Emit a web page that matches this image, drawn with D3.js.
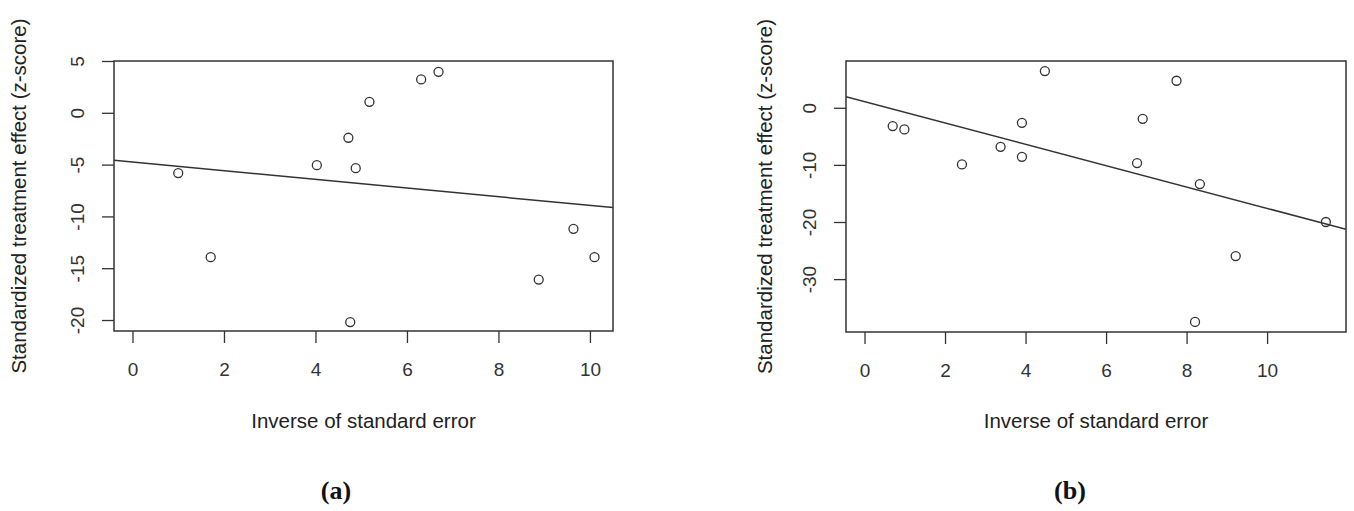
<!DOCTYPE html>
<html>
<head>
<meta charset="utf-8">
<style>
body { margin: 0; background: #fff; }
text { font-family: "Liberation Sans", Arial, sans-serif; fill: #222; }
.box { fill: none; stroke: #333; stroke-width: 1.5; }
.pt { fill: none; stroke: #333; stroke-width: 1.3; }
.fit { stroke: #333; stroke-width: 1.5; }
.tick line { stroke: #333; stroke-width: 1.3; }
.tick text { font-size: 19px; fill: #333; }
.title { font-size: 20.5px; }
.tag { font-family: "Liberation Serif", "DejaVu Serif", serif; font-weight: bold; font-size: 26px; fill: #111; }
</style>
</head>
<body>
<svg width="1354" height="511"></svg>
<script src="https://d3js.org/d3.v7.min.js"></script>
<script>

// panel (a): inverse SE vs standardized effect
var xA = [1.0, 1.71, 4.03, 4.72, 4.88, 4.76, 5.18, 6.31, 6.69, 8.88, 9.64, 10.1];
var yA = [-5.82, -13.93, -5.05, -2.41, -5.34, -20.2, 1.06, 3.22, 3.96, -16.1, -11.2, -13.93];
var fitA = [-4.74, -0.42];   // intercept, slope

// panel (b)
var xB = [0.70, 0.99, 2.42, 3.38, 3.91, 3.91, 4.48, 6.77, 6.91, 7.75, 8.33, 8.21, 9.22, 11.46];
var yB = [-3.2, -3.79, -9.92, -6.83, -2.63, -8.58, 6.43, -9.68, -1.93, 4.73, -13.36, -37.5, -25.97, -20.0];
var fitB = [1.09, -1.87];

var xTicksA = [0, 2, 4, 6, 8, 10];
var yTicksA = [-20, -15, -10, -5, 0, 5];
var xTicksB = [0, 2, 4, 6, 8, 10];
var yTicksB = [-30, -20, -10, 0];

var xTitle = "Inverse of standard error";
var yTitle = "Standardized treatment effect (z-score)";

var svg = d3.select("svg");

// R prints a plain hyphen for negatives
var fmt = function(d) { return String(d); };

var panels = [
  { id: "a", xs: xA, ys: yA, fit: fitA, xt: xTicksA, yt: yTicksA,
    left: 114, top: 61, w: 499, h: 270, xdom: [-0.404, 10.504], ydom: [-21.06, 5.0],
    ylabX: 26, tagX: 336 },
  { id: "b", xs: xB, ys: yB, fit: fitB, xt: xTicksB, yt: yTicksB,
    left: 846, top: 61, w: 500, h: 271, xdom: [-0.46, 11.96], ydom: [-39.26, 8.19],
    ylabX: 772, tagX: 1070 }
];

panels.forEach(function(p) {
  var x = d3.scaleLinear().domain(p.xdom).range([0, p.w]);
  var y = d3.scaleLinear().domain(p.ydom).range([p.h, 0]);

  var g = svg.append("g").attr("transform", "translate(" + p.left + "," + p.top + ")");

  g.append("clipPath").attr("id", "clip-" + p.id)
    .append("rect").attr("width", p.w).attr("height", p.h);

  // y axis, R style: labels parallel to the axis
  var ya = g.append("g")
    .call(d3.axisLeft(y).tickValues(p.yt).tickSize(12).tickSizeOuter(0).tickFormat(fmt));
  ya.select(".domain").remove();
  ya.selectAll(".tick text")
    .attr("x", 0).attr("y", -30).attr("dy", 0)
    .attr("text-anchor", "middle")
    .attr("transform", "rotate(-90)");

  var xa = g.append("g").attr("transform", "translate(0," + p.h + ")")
    .call(d3.axisBottom(x).tickValues(p.xt).tickSize(12).tickSizeOuter(0).tickPadding(20).tickFormat(fmt));
  xa.select(".domain").remove();

  // regression line
  g.append("line").attr("class", "fit")
    .attr("clip-path", "url(#clip-" + p.id + ")")
    .attr("x1", x(p.xdom[0])).attr("y1", y(p.fit[0] + p.fit[1] * p.xdom[0]))
    .attr("x2", x(p.xdom[1])).attr("y2", y(p.fit[0] + p.fit[1] * p.xdom[1]));

  g.selectAll("circle.pt")
    .data(p.xs.map(function(v, i) { return [v, p.ys[i]]; }))
    .enter().append("circle")
      .attr("class", "pt")
      .attr("cx", function(d) { return x(d[0]); })
      .attr("cy", function(d) { return y(d[1]); })
      .attr("r", 4.5);

  g.append("rect").attr("class", "box").attr("width", p.w).attr("height", p.h);

  g.append("text").attr("class", "title")
    .attr("x", p.w / 2).attr("y", 367)
    .attr("text-anchor", "middle")
    .text(xTitle);

  svg.append("text").attr("class", "title")
    .attr("transform", "translate(" + p.ylabX + "," + (p.top + p.h / 2) + ") rotate(-90)")
    .attr("text-anchor", "middle")
    .text(yTitle);

  svg.append("text").attr("class", "tag")
    .attr("x", p.tagX).attr("y", 499)
    .attr("text-anchor", "middle")
    .text("(" + p.id + ")");
});

</script>
</body>
</html>
